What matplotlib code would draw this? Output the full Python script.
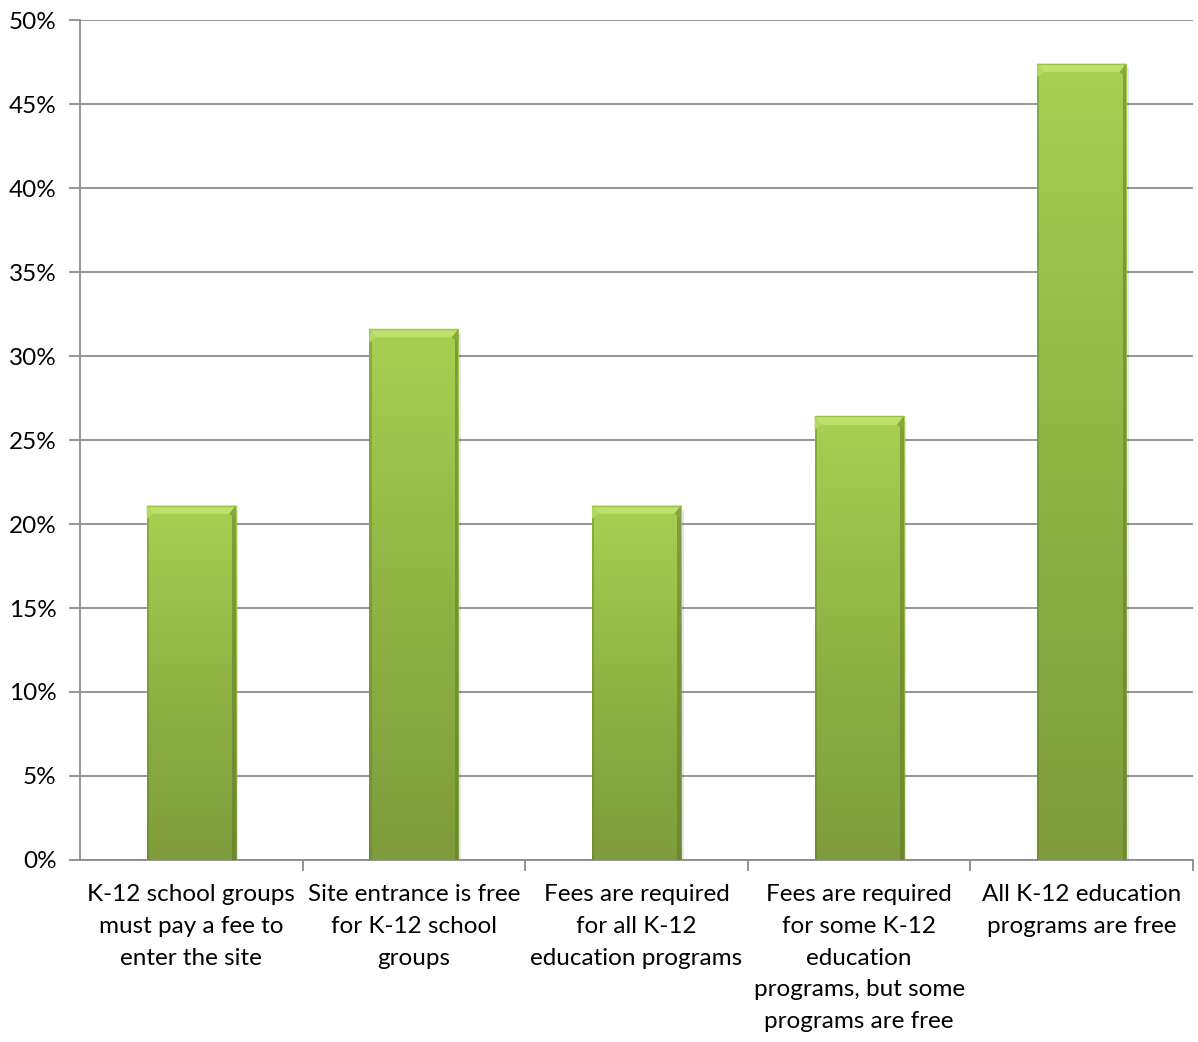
import numpy as np
import matplotlib
matplotlib.use('Agg')
import matplotlib.pyplot as plt
from matplotlib.patches import Rectangle, Polygon
from matplotlib.colors import LinearSegmentedColormap
from matplotlib.ticker import MultipleLocator, FuncFormatter

categories = [
    'K-12 school groups\nmust pay a fee to\nenter the site',
    'Site entrance is free\nfor K-12 school\ngroups',
    'Fees are required\nfor all K-12\neducation programs',
    'Fees are required\nfor some K-12\neducation\nprograms, but some\nprograms are free',
    'All K-12 education\nprograms are free',
]
shares = [21.1, 31.6, 21.1, 26.4, 47.4]

plt.rcParams['font.family'] = ['Lato', 'DejaVu Sans']

fig = plt.figure(figsize=(11.98, 10.42), dpi=100)
ax = fig.add_axes([80 / 1198, 1 - 860 / 1042, 1113 / 1198, 840 / 1042])

n = len(categories)
ax.set_xlim(0, n)
ax.set_ylim(0, 50)

grid_color = '#8c8c8c'
ax.yaxis.set_major_locator(MultipleLocator(5))
ax.yaxis.set_major_formatter(FuncFormatter(lambda v, _: f'{v:.0f}%'))
ax.grid(axis='y', color=grid_color, linewidth=1.3)
ax.set_axisbelow(True)
ax.set_xticks(np.arange(1, n + 1))
ax.set_xticklabels([])
ax.tick_params(axis='y', length=8, width=1.3, color=grid_color, labelsize=17.5, pad=9)
ax.tick_params(axis='x', length=8, width=1.3, color=grid_color)
for s in ['top', 'right']:
    ax.spines[s].set_visible(False)
for s in ['left', 'bottom']:
    ax.spines[s].set_color(grid_color)
    ax.spines[s].set_linewidth(1.3)

for i, lab in enumerate(categories):
    ax.text(i + 0.5, -1.45, lab, ha='center', va='top', fontsize=17.5,
            linespacing=1.63, transform=ax.transData)

body = LinearSegmentedColormap.from_list('body', ['#7e9c3c', '#8fb444', '#a7d052'])
edge_dark = '#5f7a26'
bw = 0.4
bev_y = 0.5
bev_x = 0.03
for i, v in enumerate(shares):
    x0 = i + 0.5 - bw / 2
    x1 = x0 + bw
    # soft shadow under/right of bar
    ax.add_patch(Rectangle((x0 + 0.012, -0.25), bw, v, facecolor='#000000',
                           alpha=0.10, edgecolor='none', zorder=2))
    grad = np.linspace(0, 1, 256).reshape(-1, 1)
    im = ax.imshow(grad, cmap=body, origin='lower', aspect='auto',
                   extent=(x0, x1, 0, v), zorder=3)
    clip = Rectangle((x0, 0), bw, v, transform=ax.transData)
    im.set_clip_path(clip)
    # darker side edges
    ax.add_patch(Rectangle((x0, 0), 0.01, v, facecolor=edge_dark, alpha=0.4,
                           edgecolor='none', zorder=4))
    ax.add_patch(Rectangle((x1 - 0.016, 0), 0.016, v, facecolor=edge_dark, alpha=0.55,
                           edgecolor='none', zorder=4))
    # bevelled top
    ax.add_patch(Polygon([(x0, v), (x1, v), (x1 - bev_x, v - bev_y), (x0 + bev_x, v - bev_y)],
                         closed=True, facecolor='#bde06e', edgecolor='none', zorder=5))
    ax.add_patch(Polygon([(x0, v), (x0 + bev_x, v - bev_y), (x0, v - bev_y * 1.6)],
                         closed=True, facecolor='#b0d862', edgecolor='none', zorder=5))
    ax.add_patch(Polygon([(x1, v), (x1 - bev_x, v - bev_y), (x1, v - bev_y * 1.6)],
                         closed=True, facecolor='#86a83c', edgecolor='none', zorder=5))
    ax.plot([x0, x1], [v, v], color='#9cc24a', linewidth=1, zorder=6)

fig.savefig('out.png', dpi=100)
